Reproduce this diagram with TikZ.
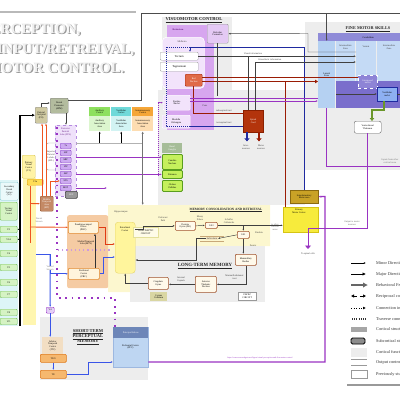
\documentclass[tikz,border=0pt]{standalone}
\usepackage{fontspec}
\setmainfont{Liberation Serif}
\usetikzlibrary{arrows.meta,calc}
\definecolor{bgg}{HTML}{EDEDED}
\definecolor{memy}{HTML}{FCF7CF}
\definecolor{cyb}{HTML}{DDF5F7}
\definecolor{yelb}{HTML}{FFF6B0}
\definecolor{bsc}{HTML}{D7A6EF}
\definecolor{retc}{HTML}{E4C9F4}
\definecolor{mbc}{HTML}{F2E3FB}
\definecolor{rnc}{HTML}{E06A48}
\definecolor{rnd}{HTML}{A52A10}
\definecolor{scc}{HTML}{B3340C}
\definecolor{scd}{HTML}{8A2000}
\definecolor{dred}{HTML}{9A1C05}
\definecolor{navyb}{HTML}{1F2AA0}
\definecolor{purp}{HTML}{9933C2}
\definecolor{orng}{HTML}{EE5520}
\definecolor{vblue}{HTML}{3A55E8}
\definecolor{redb}{HTML}{E03A12}
\definecolor{cbhc}{HTML}{8F8BD8}
\definecolor{zl}{HTML}{B5D1F2}
\definecolor{zi}{HTML}{C4DAF5}
\definecolor{pband}{HTML}{7A6ECC}
\definecolor{ipc}{HTML}{8E84D6}
\definecolor{vsc}{HTML}{8EB0F2}
\definecolor{olv}{HTML}{6A962A}
\definecolor{smac}{HTML}{C9A226}
\definecolor{smad}{HTML}{8A6A10}
\definecolor{pmcc}{HTML}{F7EB3C}
\definecolor{pmcd}{HTML}{D6C414}
\definecolor{bghc}{HTML}{A6BD98}
\definecolor{limec}{HTML}{C5F05C}
\definecolor{limed}{HTML}{5A9E1E}
\definecolor{audhc}{HTML}{8EE05E}
\definecolor{audbc}{HTML}{DCF6CE}
\definecolor{vsthc}{HTML}{6FD9D9}
\definecolor{vstbc}{HTML}{D2F3F3}
\definecolor{somhc}{HTML}{F5A638}
\definecolor{sombc}{HTML}{FDDDB2}
\definecolor{poc}{HTML}{D0CAA2}
\definecolor{dpmc}{HTML}{B3BC9E}
\definecolor{pplc}{HTML}{EFE1FA}
\definecolor{ppld}{HTML}{B58AE0}
\definecolor{pbc}{HTML}{CDAAF1}
\definecolor{pbd}{HTML}{8A48C8}
\definecolor{v1c}{HTML}{FFF3A6}
\definecolor{v1d}{HTML}{D9C65A}
\definecolor{v1ac}{HTML}{FFDD55}
\definecolor{v1ad}{HTML}{E0A010}
\definecolor{cyd}{HTML}{8CCCD4}
\definecolor{grc}{HTML}{D5F3C3}
\definecolor{grd}{HTML}{78C25A}
\definecolor{mtc}{HTML}{C48A66}
\definecolor{mtd}{HTML}{95552F}
\definecolor{mtlc}{HTML}{F5CBA3}
\definecolor{phcf}{HTML}{FFF4DC}
\definecolor{phcd}{HTML}{E28A30}
\definecolor{entc}{HTML}{FFF59C}
\definecolor{entd}{HTML}{E6D56A}
\definecolor{hcf}{HTML}{FFF9EA}
\definecolor{hcd}{HTML}{A0522D}
\definecolor{subc}{HTML}{F3E6C2}
\definecolor{subd}{HTML}{C8A878}
\definecolor{ccc}{HTML}{D9D6A2}
\definecolor{tricd}{HTML}{E3DF9A}
\definecolor{v4c}{HTML}{E4CEF7}
\definecolor{itcc}{HTML}{F2DEC3}
\definecolor{teoc}{HTML}{F6B86E}
\definecolor{teod}{HTML}{E07A1A}
\definecolor{pfcc}{HTML}{BED6F2}
\definecolor{pfcd}{HTML}{9DB8E0}
\definecolor{pfhc}{HTML}{6D86B8}
\newcommand\fza{\fontsize{2.4}{2.75}\selectfont}
\newcommand\fzb{\fontsize{2.9}{3.2}\selectfont}
\newcommand\fzl{\fontsize{4.3}{5}\selectfont}
\newcommand\fzt{\fontsize{14.5}{15}\selectfont\bfseries}
\newcommand\bxn[7]{\node[#6, minimum width={#4-#2}, minimum height={#5-#3}, anchor=north west] (#1) at (#2,#3) {#7};}
\begin{document}
\begin{tikzpicture}[x=1pt,y=-1pt,>={Latex[length=2.2pt,width=1.8pt]},
  base/.style={align=center,inner sep=0.2pt,font=\fzb},
  sbox/.style={base,draw,rounded corners=1pt,line width=0.4pt},
  lab/.style={align=center,inner sep=0pt,font=\fza,text=black!75},
  cn/.style={draw=black!75,line width=0.45pt},
  ttl/.style={inner sep=0pt,align=center,text=black!85},
  tshadow/.style={anchor=base west,inner sep=0pt,font=\fzt,text=black!40},
  tmain/.style={anchor=base west,inner sep=0pt,font=\fzt,text=white!94!black}]
\useasboundingbox (0,0) rectangle (400,400);
% ---------- backgrounds
\fill[bgg] (162,17) rectangle (232,100);
\fill[bgg] (158,90) rectangle (305,205);
\fill[bgg] (305,22) rectangle (402,170);
\fill[memy] (108,205) -- (270,205) -- (270,246) -- (130,246) -- (130,292) -- (108,292) -- cycle;
\fill[bgg] (130,246) rectangle (265,302);
\fill[bgg] (40,317) rectangle (148,380);
\fill[cyb] (0,180) rectangle (18,326);
\node[fill=yelb,minimum width=13,minimum height=147,anchor=north west,inner sep=0] (v2band) at (23,178) {};
% ---------- title
\draw[gray!55,line width=1.3] (0,12) -- (136,12);
\node[tshadow] (t1s) at (-17.2,34.1) {PERCEPTION,};
\node[tmain] (t1) at (-18.4,33) {PERCEPTION,};
\node[tshadow] (t2s) at (-1.8,54.1) {INPUT/RETREIVAL,};
\node[tmain] (t2) at (-3,53) {INPUT/RETREIVAL,};
\node[tshadow] (t3s) at (-11.4,73.1) {MOTOR CONTROL.};
\node[tmain] (t3) at (-12.6,72) {MOTOR CONTROL.};
% ---------- visuomotor control
\node[ttl,font=\fontsize{4.6}{5}\selectfont\bfseries] (vmt) at (194,20) {\underline{VISUOMOTOR CONTROL}};
\fill[bsc] (167,25) rectangle (214,130);
\node[lab,text=purp!70!black,font=\fza\bfseries] (bsl) at (178,29.5) {Brainstem};
\bxn{ret}{207}{24}{228}{43}{sbox,fill=retc,draw=black!40,font=\fza}{Reticular\\Formation}
\node[fill=mbc,draw=white,line width=0.6,rounded corners=4,minimum width=42,minimum height=51,anchor=north west] (mid) at (162,37) {};
\node[lab] (midl) at (182,42) {Midbrain};
\bxn{tect}{160}{52}{198}{60}{sbox,fill=white,draw=black!35}{Tectum}
\bxn{tegm}{160}{62}{198}{71}{sbox,fill=white,draw=black!35}{Tegmentum}
\bxn{rn}{185}{74}{202}{86}{sbox,fill=rnc,draw=rnd,text=white,font=\fza}{Red\\Nucleus}
\bxn{pons}{163}{95}{190}{110}{sbox,fill=mbc,draw=white,font=\fza}{Pontine\\Nuclei}
\node[lab] (ponsl) at (205,106) {Pons};
\bxn{med}{162}{115}{190}{128}{sbox,fill=mbc,draw=white,font=\fza}{Medulla\\Oblongata}
\bxn{spc}{243}{110}{263}{132}{base,fill=scc,draw=scd,text=white,font=\fza}{Spinal\\Cord}
\draw[navyb,line width=1.3,-{Triangle[length=3pt,width=5pt]}] (spc.south -| 247,0) -- ++(0,9);
\draw[dred,line width=1.3,-{Triangle[length=3pt,width=5pt]}] (spc.south -| 259,0) -- ++(0,9);
\node[lab] (inl) at (246,147) {Inter-\\neurons};
\node[lab] (mnl) at (261,147) {Motor\\neurons};
% ---------- fine motor skills
\node[ttl,font=\fontsize{4.3}{5}\selectfont\bfseries] (fmt) at (368,29) {\underline{FINE MOTOR SKILLS}};
\bxn{cbh}{318}{33}{418}{41}{base,fill=cbhc,font=\fza}{Cerebellum}
\bxn{lat}{318}{41}{335}{108}{base,fill=zl,font=\fza}{Lateral\\Zone}
\bxn{im1}{336}{41}{355}{81}{base,fill=zi}{}
\bxn{verm}{356}{41}{376}{81}{base,fill=zi}{}
\bxn{im2}{377}{41}{402}{81}{base,fill=zi}{}
\node[lab] (im1l) at (345.5,47) {Intermediate\\Zone};
\node[lab] (verml) at (366,47) {Vermis};
\node[lab] (im2l) at (389,47) {Intermediate\\Zone};
\fill[pband] (336,81) rectangle (402,108);
\bxn{ipn}{358}{75}{377}{88}{base,draw=white,dashed,fill=ipc,text=white,font=\fza}{Interposed\\nuclei}
\bxn{vsn}{377}{87}{397}{101}{base,draw=navyb,fill=vsc,font=\fza}{Vestibular\\nuclei}
\bxn{thal}{354}{121}{381}{133}{sbox,fill=white,draw=black!60,rounded corners=2,font=\fza}{Ventrolateral\\Thalamus}
\draw[cn,->] (336,94) -- (vsn.west |- 0,94);
\draw[cn,->] (vsn.east) -- ++(6,0);
\draw[olv,line width=1.3,-{Triangle[length=3pt,width=4.5pt]}] (vsn.south -| 384,0) |- (372,110) -- (thal.north -| 372,0);
\node[lab,text=black!55] (inpl) at (390,161) {Inputs from other\\cortical areas};
% ---------- motor cortex
\bxn{sma}{290}{190}{318}{203}{base,fill=smac,draw=smad,font=\fza}{Supplementary\\motor area}
\bxn{pmc}{283}{207}{318}{232}{base,fill=pmcc,draw=pmcd}{}
\node[lab,text=black] (pmcl) at (299,211.5) {Primary\\Motor Cortex};
\node[lab,text=black!60] (otl) at (275,227) {to other\\cortical\\areas};
% ---------- basal ganglia
\bxn{bgh}{162}{143}{182}{153}{base,fill=bghc,text=white,font=\fza}{Basal\\Ganglia}
\bxn{caud}{162}{154}{182}{169}{sbox,fill=limec,draw=limed,line width=0.8,font=\fza}{Caudate\\Nucleus}
\bxn{put}{162}{170}{182}{178}{sbox,fill=limec,draw=limed,line width=0.8,font=\fza}{Putamen}
\bxn{gp}{162}{180}{182}{191}{sbox,fill=limec,draw=limed,line width=0.8,font=\fza}{Globus\\Pallidus}
% ---------- sensory cortices
\bxn{audh}{89}{107}{110}{116}{base,fill=audhc,font=\fza}{Auditory\\Cortex}
\bxn{audb}{89}{116}{110}{131}{base,fill=audbc,font=\fza}{Auditory\\Association\\Area}
\bxn{vsth}{111}{107}{131}{116}{base,fill=vsthc,font=\fza}{Vestibular\\Cortex}
\bxn{vstb}{111}{116}{131}{131}{base,fill=vstbc,font=\fza}{Vestibular\\Association\\Area}
\bxn{somh}{132}{107}{153}{116}{base,fill=somhc,font=\fza}{Somatosensory\\Cortex}
\bxn{somb}{132}{116}{153}{131}{base,fill=sombc,font=\fza}{Somatosensory\\Association\\Area}
% ---------- left: parietal, visual
\bxn{po}{35}{107}{47}{123}{sbox,fill=poc,draw=black!45,font=\fza}{Parietal\\Occipital\\(PO)}
\bxn{dpm}{50}{98}{68}{113}{sbox,fill=dpmc,draw=black!50,font=\fza}{Dorsal\\Premotor\\(dPM)}
\bxn{ppl}{55}{125}{76}{196}{base,fill=pplc,draw=ppld,dashed,line width=0.4}{}
\node[lab,text=purp!70!black] (ppll) at (65.5,132) {Posterior\\Parietal\\Lobe (PPL)};
\foreach \n/\y/\t in {1/143/7a,2/150/LIP,3/157/MIP,4/164/VIP,5/171/AIP,6/178/STS,7/185/MST}{
  \bxn{p\n}{60}{\y}{71}{\y+5.5}{sbox,fill=pbc,draw=pbd,font=\fza}{\t}
}
\draw[black!40,line width=0.4,rounded corners=2] (55.5,143) -- (46.5,143) -- (46.5,170) -- (55.5,170);
\node[lab] (spl) at (51,156.5) {Superior\\Parietal\\Lobule\\(SPL)};
\bxn{v1}{22}{155}{35}{178}{sbox,fill=v1c,draw=v1d,font=\fza}{Primary\\Visual\\Cortex\\(V1)}
\bxn{v1a}{27}{179}{43}{185}{sbox,fill=v1ac,draw=v1ad,font=\fza}{V1a}
\bxn{v2}{0}{182}{18}{200}{sbox,fill=cyb!60!white,draw=cyd,font=\fza}{Secondary\\Visual\\Cortex\\(V2)}
\bxn{g0}{0}{202}{17}{220}{sbox,fill=grc,draw=grd,font=\fza}{Tertiary\\Visual\\Cortex}
\foreach \n/\y/\t in {1/226/V3,2/236/V3A,3/250/V4,4/264/V5,5/279/V6,6/291/V7,7/309/V8,8/318/VO}{
  \bxn{g\n}{0}{\y}{17}{\y+6.5}{sbox,fill=grc,draw=grd,font=\fza}{\t}
}
\draw[black,line width=1.4,-{Latex[length=3pt,width=3pt]}] (20,326) |- (po.west);
\draw[black,line width=0.5,->] (20,229.2) -- (g1.east);
\draw[black,line width=0.5,->] (20,239.2) -- (g2.east);
\bxn{mt}{40}{196}{53}{211}{sbox,fill=mtc,draw=mtd,text=white,font=\fza}{Middle\\Temporal\\Area\\(MT)}
\bxn{sef}{65}{191}{77}{198}{sbox,fill=black!40,draw=black!75,line width=0.6,text=white,font=\fza}{SEF}
% ---------- medial temporal lobe
\bxn{mtl}{67}{215}{108}{288}{base,fill=mtlc,rounded corners=2}{}
\node[lab,text=black] (mtll) at (86,243) {Medial Temporal\\Lobe (MTL)};
\bxn{phc}{68}{221}{98}{233}{sbox,fill=phcf,draw=phcd,line width=0.6,font=\fza}{Parahippocampal\\Cortex\\(PHC)}
\bxn{prc}{68}{268}{99}{279}{sbox,fill=phcf,draw=phcd,line width=0.6,font=\fza}{Perirhinal\\Cortex\\(PRC)}
\node[lab] (hipl) at (121,212) {Hippocampus};
\bxn{ent}{115}{222}{135}{273}{base,fill=entc,draw=entd,rounded corners=3}{}
\node[lab,text=black] (entl) at (125,229) {Entorhinal\\Cortex};
% ---------- memory consolidation
\node[ttl,font=\fontsize{3.3}{4}\selectfont\bfseries] (mct) at (226,210) {\underline{MEMORY CONSOLIDATION AND RETRIEVAL}};
\bxn{dg}{175}{221}{195}{230}{sbox,fill=hcf,draw=hcd,line width=0.7,font=\fza}{Dentate\\Gyrus (DG)}
\bxn{ca3}{205}{222}{217}{228}{sbox,fill=hcf,draw=hcd,line width=0.7,font=\fza}{CA3}
\bxn{ca1}{237}{231}{249}{238}{sbox,fill=hcf,draw=hcd,line width=0.7,font=\fza}{CA1}
\draw[subd,line width=0.6] (200,236) -- (224,236) (200,241) -- (224,241);
\node[lab,fill=subc,inner sep=0.5pt] (sub) at (212,238.5) {Subiculum};
\bxn{mam}{235}{254}{256}{265}{sbox,fill=hcf,draw=hcd,line width=0.7,font=\fza}{Mammillary\\Bodies}
\bxn{atn}{195}{276}{216}{292}{sbox,fill=hcf,draw=hcd,line width=0.7,font=\fza}{Anterior\\Thalamic\\Nucleus}
\bxn{cing}{148}{277}{168}{289}{sbox,fill=hcf,draw=hcd,line width=0.7,font=\fza}{Cingulate\\Gyrus}
\bxn{cc}{150}{292}{167}{301}{base,fill=ccc,font=\fza}{Corpus\\Callosum}
\bxn{tri}{133}{227}{158}{237}{base,draw=tricd,fill=white!50!memy,font=\fza}{TRISYNAPTIC\\CIRCUIT}
\node[ttl,font=\fontsize{4.8}{5}\selectfont\bfseries] (ltm) at (205,266) {\underline{LONG-TERM MEMORY}};
\bxn{papez}{238}{292}{256}{300}{base,draw=black!40,fill=white,font=\fza}{PAPEZ\\CIRCUIT}
% ---------- short-term perceptual memory
\node[ttl,font=\fontsize{4.5}{5.3}\selectfont\bfseries] (stm) at (88,337) {\underline{SHORT-TERM}\\\underline{PERCEPTUAL}\\\underline{MEMORY}};
\bxn{v4}{46}{307}{54}{313}{sbox,fill=v4c,draw=purp,font=\fza}{V4}
\bxn{itc}{42}{337}{63}{358}{base,fill=itcc,font=\fza}{Inferior\\Temporal\\Cortex\\(ITC)\\[2pt]}
\bxn{teo}{40}{354}{66}{362}{sbox,fill=teoc,draw=teod,line width=0.6,font=\fza}{TEO}
\bxn{te}{40}{370}{66}{378}{sbox,fill=teoc,draw=teod,line width=0.6,font=\fza}{TE}
\bxn{pfc}{113}{327}{148}{367}{base,fill=pfcc,draw=pfcd}{}
\bxn{pfch}{113}{327}{148}{338}{base,fill=pfhc,text=white,font=\fza}{Principal Sulcus}
\node[lab,text=black] (pfcl) at (130.5,347) {Prefrontal Cortex\\(PFC)};
% ---------- connectors: brainstem / cerebellum
\draw[navyb,line width=0.9,dash pattern=on 1pt off 1pt] (190,47) -| (166,126) -- (190,126);
\draw[navyb,line width=0.9] (190,126) -- (spc.west |- 0,126);
\node[lab] (tsl) at (224,122.5) {tectospinal tract};
\draw[dred,line width=1] (rn.south) |- (spc.west |- 0,113.5);
\node[lab] (rsl) at (224,110.8) {rubrospinal tract};
\draw[navyb,line width=0.9,->] (sma.north) |- (190,47) -- (tect.north -| 190,0);
\draw[dred,line width=1] (rn.east |- 0,77.5) -- (ipn.west |- 0,77.5);
\draw[dred,line width=1,-{Triangle[length=3pt,width=3.5pt]}] (rn.east |- 0,81.5) -- (lat.west |- 0,81.5);
\draw[dred,line width=1] (pmc.north -| 285,0) -- (285,81.5);
\draw[purp,line width=0.7] (pons.east |- 0,98) -- (lat.west |- 0,98);
\draw[purp,line width=0.7,->] (pons.east |- 0,101) -- (lat.west |- 0,101);
\draw[cn,->] (tect.east) -- (tect.east -| verm.west);
\node[lab] (vil) at (253,53.5) {Visual information};
\draw[cn,->] (spc.north -| 255,0) |- (verm.west |- 0,62);
\draw[cn] (248,56) -- (spc.north -| 248,0);
\node[lab] (kil) at (270,59.6) {Kinesthetic information};
\draw[cn,->] (verm.west |- 0,52) -| (308,33.5) -- (ret.east);
\draw[cn] (ret.south) -- (ret.south |- 0,96);
\draw[black!70,line width=0.6,->] ($(dpm.north east)+(0,2)$) -| (141,13) -| (lat.north);
\draw[black!70,line width=0.6] (lat.north |- 0,13) -- (402,13);
\draw[purp,line width=1] (lat.south) |- (402,166);
\coordinate (tsc) at (308,249);
\draw[purp,line width=1] (thal.south) |- (308,228);
\draw[purp,line width=1,-{Triangle[length=3.5pt,width=6pt]}] (308,228) -- (tsc);
\node[lab] (tscl) at (308,254) {To spinal cells};
\node[lab,text=black!60] (outl) at (352,223.5) {Output to motor\\neurons};
\draw[purp,line width=1.3,->] (pfc.east |- 0,362) -| (325,196.5) -- (sma.east);
\node[lab,text=purp,font=\fontsize{2.1}{2.5}\selectfont] (url) at (260,357.5) {https://www.researchgate.net/figure/visual-perception-and-fine-motor-control};
% ---------- connectors: basal ganglia, sensory
\draw[purp,line width=0.7,->] (ppl.east |- 0,157) -- (caud.west |- 0,157);
\draw[purp,line width=0.7,->] (ppl.east |- put.west) -- (put.west);
\draw[purp,line width=0.8,dash pattern=on 1pt off 1pt] (158,176) -- (158,102.5);
\draw[purp,line width=0.7,->] (158,102.5) -- (pons.west);
\coordinate (pplx) at (107,188);
\draw[purp,line width=0.7,->] (ppl.east |- pplx) -- (pplx);
\draw[gray!60,line width=0.9] (ppl.east |- 0,143) -- (143,143);
\draw[black,line width=0.6,->] (audb.south |- 0,143) -- (audb.south);
\draw[black,line width=0.6,->] (vstb.south |- 0,143) -- (vstb.south);
\draw[black!55,line width=0.6,{Latex[length=2.4pt,width=2.2pt]}-{Latex[length=2.4pt,width=2.2pt]}] (somb.south) -- (somb.south |- 0,205);
\draw[cn,->] (po.north) |- (dpm.west |- 0,103);
\draw[cn,->] (dpm.south -| 66,0) -- (ppl.north -| 66,0);
% ---------- connectors: dorsal / ventral streams
\draw[purp,line width=1.8,dash pattern=on 1.8pt off 4.6pt] (57,127) -- (57,298) -- (115,298) -- (pfc.north -| 115,0);
\draw[purp!50,line width=1.2,dash pattern=on 1.2pt off 3pt] (58,250) -- (110,250);
\draw[orng,line width=0.9] (30,186) -- (30,243);
\draw[orng,line width=0.9,->] (30,203.5) -- (mt.west);
\draw[orng,line width=0.9,->] (30,227) -- (phc.west);
\draw[orng,line width=0.9,->] (mt.north -| 42,0) -- (po.south -| 42,0);
\draw[orng,line width=0.9,->] (mt.north -| 46,0) -- (po.south -| 46,0);
\draw[orng,line width=0.9,->] (mt.north -| 50.5,0) |- (p6.west);
\node[lab,text=black!55] (dsl) at (39,220) {Dorsal\\Stream};
\coordinate (vs) at (50,254);
\draw[vblue,line width=0.9] (v2band.east |- vs) -- (vs);
\draw[vblue,line width=0.9,->] (vs) |- (prc.west);
\draw[vblue,line width=0.9,->] (vs) -- (v4.north);
\node[lab,text=black!55,fill=white] (vsl) at (50,268) {Ventral\\Stream};
\draw[redb,line width=0.9,->] (phc.east) -- ++(7,0) |- (ent.west |- 0,244);
\draw[vblue,line width=0.9,->] (prc.east) -- ++(4,0) |- (ent.west |- 0,257);
\draw[black!80,line width=0.5,->] (prc.north -| 95,0) -- (phc.south -| 95,0);
\draw[vblue,line width=0.9,->] (v4.south) -- (v4.south |- itc.north);
\draw[vblue,line width=0.9,->] (teo.south) -- (te.north);
\draw[vblue,line width=0.9,->] (te.east) -- ++(22,0) |- (pfc.west |- 0,362);
% ---------- connectors: memory
\draw[cn,->] (ent.east |- 0,229) -- ++(8,0) |- (dg.west);
\node[lab] (ppth) at (163,219.5) {Perforant\\Path};
\draw[cn,->] (dg.east) -- (ca3.west);
\node[lab] (mfl) at (200,218.5) {Mossy\\Fibers};
\draw[cn,->] (ca3.east) -- (ca3.east -| pmc.west);
\node[lab] (scl) at (229,221) {Schaffer\\Collaterals};
\draw[cn,->] (ca1.north |- ca3.east) -- (ca1.north);
\draw[cn,->] (ca1.west) -- (sub.east);
\draw[cn,->] (sub.west) -- ++(-10,0) |- (ent.east |- 0,260);
\draw[cn,->] (ca1.south) -- (ca1.south |- mam.north);
\node[lab] (fxl) at (253,246) {Fornix};
\node[lab] (fml) at (259,233) {Fimbria};
\draw[cn,->] (mam.south) |- (atn.east);
\node[lab,anchor=east] (mttl) at (244,277) {Mammillothalamic\\tract};
\draw[cn,->] (atn.west) -- (cing.east |- atn.west);
\node[lab] (icl) at (181,279.5) {Internal\\Capsule};
\draw[cn,->] (cing.west) -| (ent.south);
% ---------- legend
\draw[black,line width=0.4,->] (351,263) -- (366,263);
\node[anchor=west,inner sep=0,font=\fzl,text=black!80] (lg1) at (376,263) {Minor Directional Influence};
\draw[black,line width=1,-{Latex[length=3.5pt,width=3.5pt]}] (351,274) -- (366,274);
\node[anchor=west,inner sep=0,font=\fzl,text=black!80] (lg2) at (376,274) {Major Directional Influence};
\draw[black!60,line width=2,-{Latex[length=5pt,width=5.5pt]}] (351,285) -- (368,285);
\node[anchor=west,inner sep=0,font=\fzl,text=black!80] (lg3) at (376,285) {Behavioral Feedback};
\draw[black,line width=0.5,dashed,{Latex[length=3pt,width=3.5pt]}-{Latex[length=3pt,width=3.5pt]}] (351,296) -- (366,296);
\node[anchor=west,inner sep=0,font=\fzl,text=black!80] (lg4) at (376,296) {Reciprocal connection};
\draw[black,line width=0.6,dotted,-{Latex[length=3pt,width=3pt]}] (351,308) -- (366,308);
\node[anchor=west,inner sep=0,font=\fzl,text=black!80] (lg5) at (376,308) {Connection inferred};
\draw[black!80,line width=1.1,dash pattern=on 1pt off 1.2pt] (352,319) -- (366,319);
\node[anchor=west,inner sep=0,font=\fzl,text=black!80] (lg6) at (376,319) {Traverse connection};
\fill[black!35] (351,327) rectangle (367,332);
\node[anchor=west,inner sep=0,font=\fzl,text=black!80] (lg7) at (376,329.5) {Cortical structure};
\draw[fill=black!45,line width=0.8,rounded corners=1.5] (351,338) rectangle (365,344);
\node[anchor=west,inner sep=0,font=\fzl,text=black!80] (lg8) at (376,341) {Subcortical structure};
\fill[black!7] (351,348) rectangle (367,357);
\node[anchor=west,inner sep=0,font=\fzl,text=black!80] (lg9) at (376,352) {Cortical functional area};
\draw[black!40,line width=0.5] (351,359) -- (367,359) (351,365) -- (367,365);
\node[anchor=west,inner sep=0,font=\fzl,text=black!80] (lg10) at (376,362) {Output control};
\draw[black!40,fill=white,line width=0.5] (351,370) rectangle (367,378);
\node[anchor=west,inner sep=0,font=\fzl,text=black!80] (lg11) at (376,374) {Previously studied};
\draw[black!40,line width=1.8] (347,385) -- (402,385);
\end{tikzpicture}
\end{document}
